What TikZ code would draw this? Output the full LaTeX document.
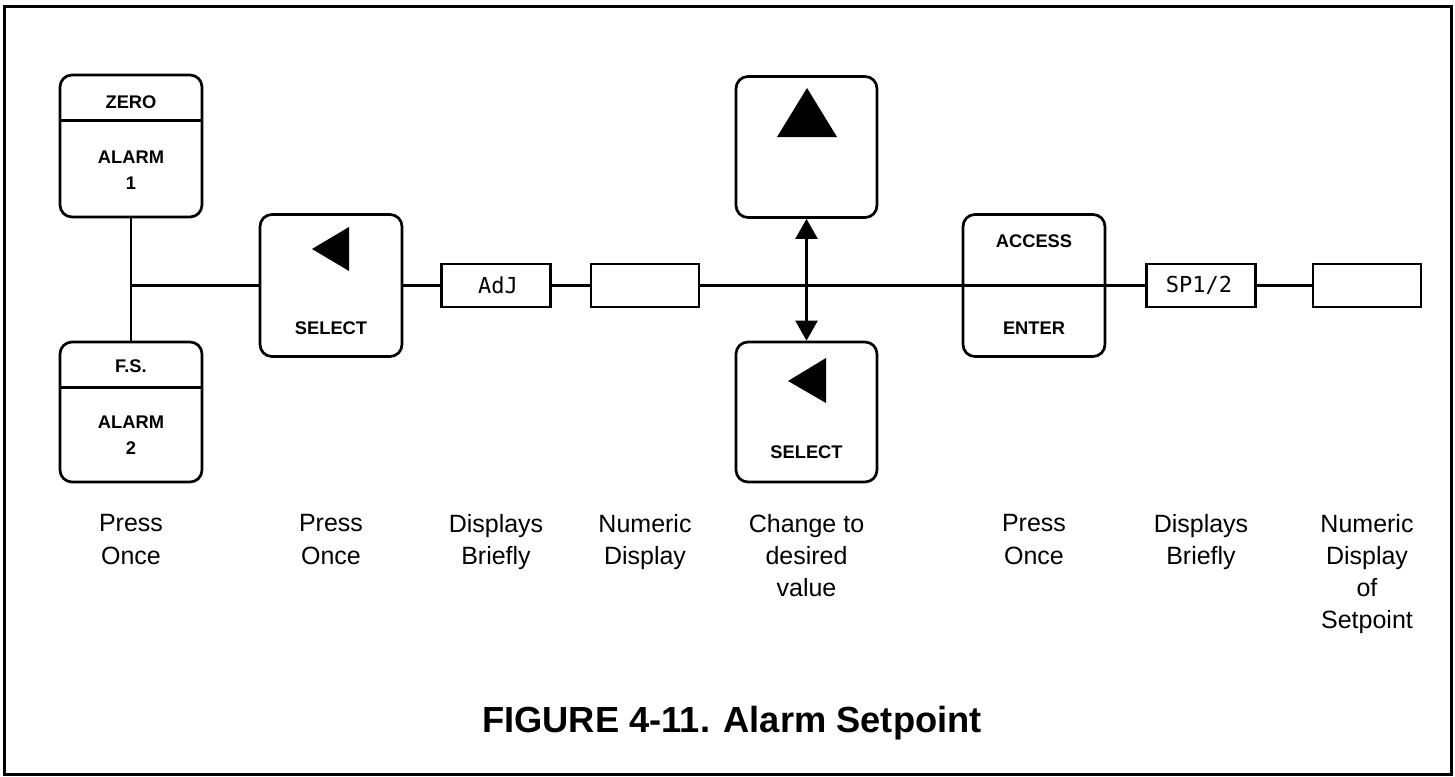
\documentclass[tikz,border=0pt]{standalone}
\usepackage{fontspec}
\setmainfont{Liberation Sans}
\newfontfamily\segfont{DejaVu Sans Mono}
\usetikzlibrary{arrows.meta}
\begin{document}
\begin{tikzpicture}[x=1pt,y=-1pt,
 btn/.style={draw,line width=2.7pt,rounded corners=12pt,inner sep=0pt},
 disp/.style={draw,line width=2.6pt,minimum width=109pt,minimum height=43pt,inner sep=0pt},
 conn/.style={line width=2.3pt},
 divl/.style={line width=2.4pt},
 bt/.style={font=\bfseries\fontsize{18.3}{22}\selectfont,inner sep=0pt},
 lab/.style={font=\fontsize{25}{32.3}\selectfont,align=center,anchor=north,inner sep=0pt},
 segtext/.style={font=\segfont\fontsize{22}{24}\selectfont,inner sep=0pt},
 dblarrow/.style={arrows={Triangle[width=22pt,length=20pt]-Triangle[width=22pt,length=20pt]}}]
\useasboundingbox (0,0) rectangle (1455,776);
\draw[line width=3pt] (4,7) rectangle (1451,774.5);

% buttons
\node[btn,minimum width=142pt,minimum height=142pt] (z1) at (131,146) {};
\node[btn,minimum width=142pt,minimum height=140pt] (z2) at (131,412) {};
\node[btn,minimum width=142pt,minimum height=142pt] (sel1) at (331,285.5) {};
\node[btn,minimum width=141pt,minimum height=141pt] (up) at (806.5,147) {};
\node[btn,minimum width=141pt,minimum height=140pt] (down) at (806.5,412) {};
\node[btn,minimum width=142pt,minimum height=142pt] (acc) at (1034,285.5) {};

% displays
\node[disp] (adj) at (496,285.5) {};
\node[disp,minimum width=108pt] (num1) at (645,285.5) {};
\node[disp] (sp) at (1201,285.5) {};
\node[disp,minimum width=108pt] (num2) at (1367,285.5) {};
\node[segtext] (adjt) at (498,285.5) {AdJ};
\node[segtext] (spt) at (1199,285.5) {SP1/2};

% dividers
\draw[divl] ([yshift=-47pt]z1.north west) -- ([yshift=-47pt]z1.north east);
\draw[divl] ([yshift=-47pt]z2.north west) -- ([yshift=-47pt]z2.north east);

% button texts
\node[bt] (t1) at (131,102) {ZERO};
\node[bt] (t2) at (131,157) {ALARM};
\node[bt] (t3) at (131,183) {1};
\node[bt] (t4) at (131,366) {F.S.};
\node[bt] (t5) at (131,422) {ALARM};
\node[bt] (t6) at (131,448) {2};
\node[bt] (t7) at (331,328) {SELECT};
\node[bt] (t8) at (806.5,452) {SELECT};
\node[bt] (t9) at (1034,241.5) {ACCESS};
\node[bt] (t10) at (1034,328) {ENTER};

% triangles
\fill (312,249) -- (349,227) -- (349,271) -- cycle;
\fill (807,88) -- (837,137) -- (777,137) -- cycle;
\fill (788,381) -- (826,358) -- (826,403) -- cycle;

% connectors
\coordinate (j) at (131,285.5);
\draw[conn] (z1.south) -- (z2.north);
\draw[conn] (j) -- (sel1.west);
\draw[conn] (sel1.east) -- (adj.west);
\draw[conn] (adj.east) -- (num1.west);
\draw[conn] (num1.east) -- (acc.west);
\draw[conn] (acc.west) -- (acc.east);
\draw[conn] (acc.east) -- (sp.west);
\draw[conn] (sp.east) -- (num2.west);
\draw[conn,dblarrow] (up.south) -- (down.north);

% labels
\node[lab] (l1) at (131,513.7) {\rule{0pt}{18pt}Press\\Once};
\node[lab] (l2) at (331,513.7) {\rule{0pt}{18pt}Press\\Once};
\node[lab] (l3) at (496,513.7) {\rule{0pt}{18pt}Displays\\Briefly};
\node[lab] (l4) at (645,513.7) {\rule{0pt}{18pt}Numeric\\Display};
\node[lab] (l5) at (806.5,513.7) {\rule{0pt}{18pt}Change to\\desired\\value};
\node[lab] (l6) at (1034,513.7) {\rule{0pt}{18pt}Press\\Once};
\node[lab] (l7) at (1201,513.7) {\rule{0pt}{18pt}Displays\\Briefly};
\node[lab] (l8) at (1367,513.7) {\rule{0pt}{18pt}Numeric\\Display\\of\\Setpoint};

% title
\node[font=\bfseries\fontsize{36.3}{40}\selectfont,anchor=base,inner sep=0pt] (title) at (732,732) {FIGURE 4-11. Alarm Setpoint};
\end{tikzpicture}
\end{document}
